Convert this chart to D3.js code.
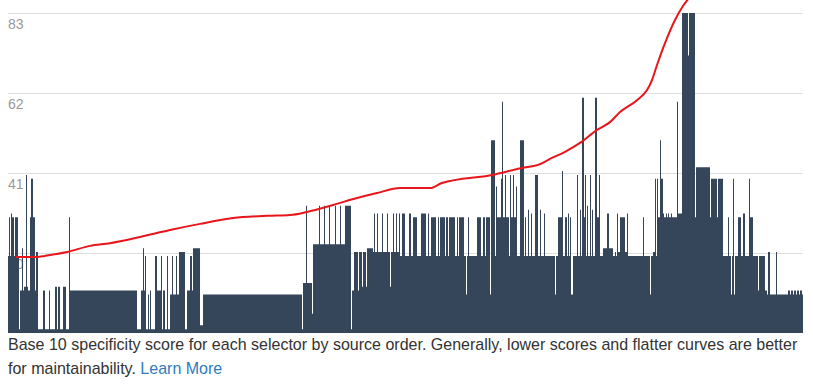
<!DOCTYPE html>
<html>
<head>
<meta charset="utf-8">
<script src="https://cdn.jsdelivr.net/npm/d3@7"></script>
<style>
  html, body { margin: 0; padding: 0; background: #fff; }
  svg { display: block; }
</style>
</head>
<body>
<div id="chart"></div>
<script>
// specificity per selector, in source order, as runs of [score, selectors]
const scoreRuns = [
  [20,1],[30,1],[20,1],[31,1],[30,2],[20,1],[30,3],[20,1],[1,1],[11,2],
  [22,1],[11,1],[12,2],[41,1],[12,1],[11,2],[30,1],[40,2],[30,2],[11,1],
  [21,2],[1,5],[11,2],[1,4],[11,1],[1,5],[12,2],[1,1],[12,2],[1,3],
  [12,3],[1,3],[30,1],[11,67],[1,4],[11,2],[22,1],[11,1],[20,1],[1,2],
  [10,1],[1,1],[11,1],[1,4],[20,2],[11,4],[20,1],[1,1],[11,2],[1,2],
  [20,1],[1,2],[10,2],[20,1],[10,3],[20,1],[10,2],[21,6],[1,2],[11,3],
  [20,2],[11,1],[22,7],[2,3],[10,99],[1,1],[13,3],[33,1],[13,5],[5,1],
  [23,6],[33,1],[23,4],[33,1],[23,4],[33,1],[23,5],[33,1],[23,4],[33,1],
  [23,4],[33,6],[1,1],[11,2],[21,4],[11,1],[21,3],[12,1],[21,3],[12,1],
  [22,6],[21,1],[31,1],[21,2],[31,1],[21,4],[31,1],[21,4],[31,1],[21,2],
  [12,1],[21,2],[31,1],[21,2],[31,1],[21,2],[31,1],[20,2],[31,3],[20,4],
  [31,2],[20,2],[30,4],[20,4],[31,5],[20,2],[31,1],[20,2],[30,5],[20,2],
  [30,1],[20,1],[30,5],[20,1],[30,2],[20,1],[30,6],[20,2],[30,1],[20,1],
  [30,5],[20,2],[10,1],[20,1],[30,1],[20,8],[30,4],[20,2],[30,2],[20,1],
  [30,4],[10,1],[50,4],[20,1],[38,1],[30,4],[40,1],[60,1],[30,2],[41,1],
  [30,3],[20,1],[41,1],[30,2],[41,1],[30,2],[38,1],[20,3],[50,4],[20,1],
  [30,1],[20,2],[32,1],[20,2],[31,1],[20,3],[41,3],[20,2],[32,1],[20,3],
  [31,1],[20,10],[10,1],[20,2],[30,4],[42,1],[20,2],[30,2],[20,1],[31,1],
  [20,1],[30,1],[10,2],[20,4],[41,1],[20,2],[32,1],[20,1],[61,2],[30,1],
  [41,1],[20,1],[33,1],[20,2],[41,1],[20,1],[32,1],[20,2],[61,2],[30,2],
  [41,1],[20,3],[22,4],[31,2],[22,4],[20,2],[21,1],[20,1],[31,1],[21,2],
  [30,5],[21,2],[31,1],[20,15],[30,1],[20,6],[10,1],[20,2],[21,2],[40,1],
  [20,1],[40,1],[30,2],[50,1],[40,2],[31,1],[30,2],[31,1],[30,1],[31,1],
  [30,2],[31,1],[30,5],[60,1],[31,4],[83,6],[72,1],[83,6],[30,1],[43,14],
  [30,1],[40,6],[30,1],[40,5],[20,5],[30,1],[20,2],[10,1],[20,1],[40,1],
  [10,1],[20,3],[30,3],[20,2],[31,2],[20,4],[40,1],[30,3],[20,5],[11,1],
  [20,6],[11,2],[10,1],[21,2],[10,6],[21,1],[10,11],[11,2],[10,1],[11,2],
  [10,1],[11,2],[10,1],[11,2],[10,1],[11,2],[10,1]
];

// the red running curve: selector index and score
const curveIndex = [8, 29, 37, 59, 82, 102, 132, 162, 192, 225, 259, 282, 299, 325, 349, 369,
  392, 422, 434, 484, 514, 530, 544, 557, 572, 589, 602, 612, 629, 639, 644, 649, 657, 667, 675, 681];
const curveScore = [19.7, 19.7, 20.0, 21.0, 22.6, 23.3, 24.9, 26.7, 28.3, 29.8, 30.4, 30.6, 31.4, 33.2, 35.0, 36.3,
  37.6, 37.6, 38.9, 41.0, 42.8, 43.6, 45.4, 47.0, 49.3, 52.7, 54.7, 57.3, 60.4, 63.0, 65.6, 69.5, 75.2, 81.2, 84.8, 86.9];

const maxScore = 83;
const tickValues = [83, 62.25, 41.5, 20.75];

const captionLine1 = "Base 10 specificity score for each selector by source order. Generally, lower scores and flatter curves are better";
const captionLine2 = "for maintainability. ";
const linkText = "Learn More";

const width = 813, height = 387;
const padLeft = 8, padRight = 803, padTop = 13, padBottom = 333;

const svg = d3.select('#chart').append('svg')
  .attr('width', width)
  .attr('height', height);

// build the step points from the runs
const points = [];
let idx = 0;
scoreRuns.forEach(r => {
  points.push({ i: idx, v: r[0] });
  idx += r[1];
});
points.push({ i: idx, v: scoreRuns[scoreRuns.length - 1][0] });
const total = idx;

const x = d3.scaleLinear().domain([0, total]).range([padLeft, padRight]);
const y = d3.scaleLinear().domain([0, maxScore]).range([padBottom, padTop]);

// grid + labels (sit under the bars)
const grid = svg.append('g');
grid.selectAll('line').data(tickValues).enter().append('line')
  .attr('x1', padLeft).attr('x2', padRight)
  .attr('y1', d => Math.round(y(d)) + 0.5)
  .attr('y2', d => Math.round(y(d)) + 0.5)
  .attr('stroke', '#dedede')
  .attr('stroke-width', 1);

grid.selectAll('text').data(tickValues).enter().append('text')
  .attr('x', padLeft)
  .attr('y', d => y(d) + 16)
  .attr('fill', '#9a9a9a')
  .style('font-family', '"Liberation Sans", Arial, sans-serif')
  .style('font-size', '14px')
  .text(d => Math.floor(d));

// the bars, as one stepped area
const area = d3.area()
  .x(d => x(d.i))
  .y0(y(0))
  .y1(d => y(d.v))
  .curve(d3.curveStepAfter);

svg.append('path')
  .datum(points)
  .attr('d', area)
  .attr('fill', '#35465a');

// red curve
const curveData = curveIndex.map((d, k) => ({ i: d, v: curveScore[k] }));
const line = d3.line()
  .x(d => x(d.i))
  .y(d => y(d.v))
  .curve(d3.curveMonotoneX);

svg.append('path')
  .datum(curveData)
  .attr('d', line)
  .attr('fill', 'none')
  .attr('stroke', '#e8151b')
  .attr('stroke-width', 2);

// caption, squeezed to the reference's narrow type
const cap = svg.append('g')
  .style('font-family', '"Liberation Sans", Arial, sans-serif')
  .style('font-size', '16px');

const l1 = cap.append('text')
  .attr('x', 0).attr('y', 350)
  .attr('fill', '#333')
  .text(captionLine1);

const l2 = cap.append('text')
  .attr('x', 0).attr('y', 374)
  .attr('fill', '#333');
l2.append('tspan').text(captionLine2);
l2.append('tspan').attr('fill', '#2f7bbf').text(linkText);

const w1 = l1.node().getComputedTextLength();
const sx = (798 - padLeft) / w1;
cap.attr('transform', `translate(${padLeft},0) scale(${sx},1)`);
</script>
</body>
</html>
